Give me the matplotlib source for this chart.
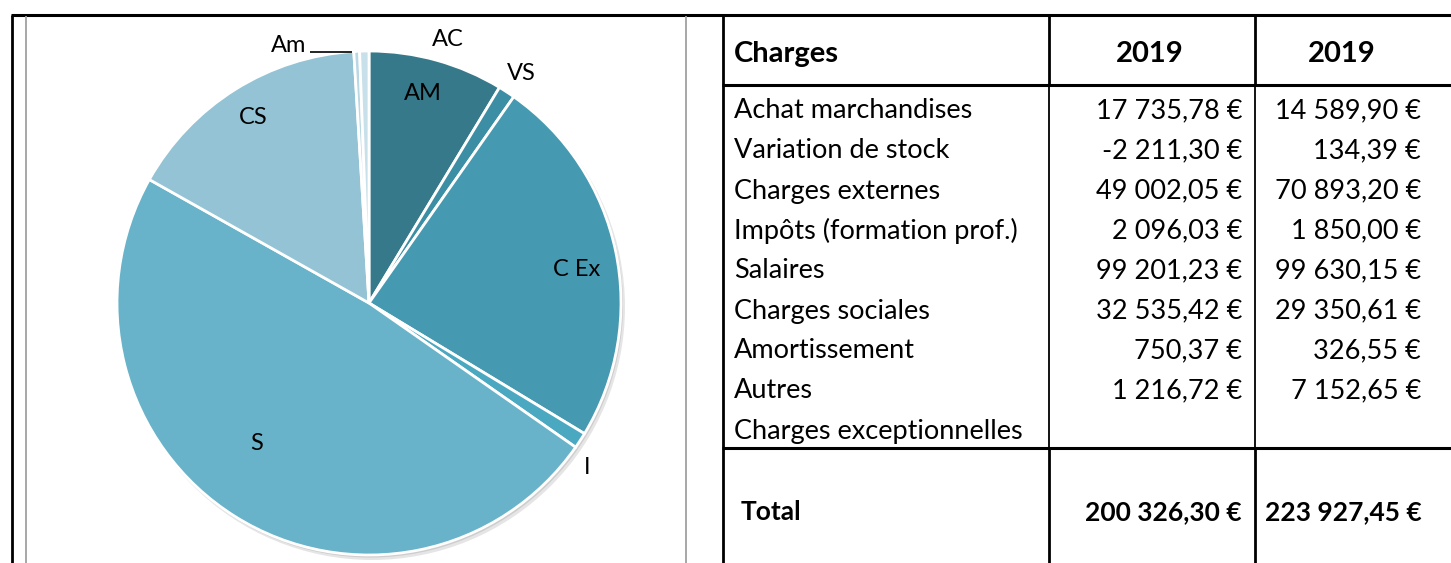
import matplotlib
matplotlib.use("Agg")
import matplotlib.pyplot as plt
from matplotlib.patches import Circle

plt.rcParams['font.family'] = ['Lato', 'DejaVu Sans']

# ---- data ----
row_labels = ["Achat marchandises", "Variation de stock", "Charges externes",
              "Impôts (formation prof.)", "Salaires", "Charges sociales",
              "Amortissement", "Autres", "Charges exceptionnelles"]
col_a_text = ["17 735,78 €", "-2 211,30 €", "49 002,05 €", "2 096,03 €",
              "99 201,23 €", "32 535,42 €", "750,37 €", "1 216,72 €", ""]
col_b_text = ["14 589,90 €", "134,39 €", "70 893,20 €", "1 850,00 €",
              "99 630,15 €", "29 350,61 €", "326,55 €", "7 152,65 €", ""]
header = ["Charges", "2019", "2019"]
total_label = "Total"
total_a = "200 326,30 €"
total_b = "223 927,45 €"

pie_labels = ["AM", "VS", "C Ex", "I", "S", "CS", "Am", "AC"]
pie_values = [17735.78, 2211.30, 49002.05, 2096.03, 99201.23, 32535.42, 750.37, 1216.72]
pie_colors = ["#36798a", "#3b8ea3", "#4599b0", "#4ba8c1", "#68b3c9",
              "#93c3d4", "#b9d8e3", "#c8e0e9"]

# ---- figure ----
W, H = 1451, 563
fig = plt.figure(figsize=(W / 100, H / 100), dpi=100)
ax = fig.add_axes([0, 0, 1, 1])

def Y(y):  # pixel-from-top -> data y
    return H - y

cx, cy, R = 369, Y(303), 252

# shadow
ax.add_patch(Circle((cx + 3, cy - 4), R + 1, facecolor="#000000", alpha=0.10, edgecolor="none", zorder=1))
ax.add_patch(Circle((cx + 1.5, cy - 2), R + 0.5, facecolor="#000000", alpha=0.10, edgecolor="none", zorder=1))

wedges, _ = ax.pie(pie_values, colors=pie_colors, startangle=90, counterclock=False,
                   center=(cx, cy), radius=R,
                   wedgeprops=dict(edgecolor="white", linewidth=2, zorder=2))
for w in wedges:
    w.set_zorder(2)

# label placement (offsets from pie centre, in pixels; x right, y up)
label_pos = {
    "AM": (54, 210, "center"),
    "VS": (152, 230, "center"),
    "C Ex": (208, 35, "center"),
    "I": (218, -163, "center"),
    "S": (-112, -139, "center"),
    "CS": (-116, 186, "center"),
    "Am": (-63, 258, "right"),
    "AC": (79, 264, "center"),
}
for lab in pie_labels:
    dx, dy, ha = label_pos[lab]
    ax.text(cx + dx, cy + dy - 1, lab, fontsize=17, ha=ha, va="center", color="#000000", zorder=5)
# leader line for Am
ax.plot([310, 352], [Y(52), Y(52)], color="black", lw=1.2, zorder=5, solid_capstyle="butt")

ax.set_xlim(0, W)
ax.set_ylim(0, H)
ax.set_axis_off()

# ---- frame lines ----
def hline(y, x0, x1, lw, c="black"):
    ax.plot([x0, x1], [Y(y), Y(y)], color=c, lw=lw, solid_capstyle="butt", zorder=6)

def vline(x, y0, y1, lw, c="black"):
    ax.plot([x, x], [Y(y0), Y(y1)], color=c, lw=lw, solid_capstyle="butt", zorder=6)

hline(15, 11, W, 2.2)
vline(12, 15, H, 2.0)
vline(26, 16, H, 1.3, "#a0a0a0")
vline(686, 16, H, 1.3, "#a0a0a0")
# table
vline(723, 15, H, 2.0)
vline(1049, 15, 86, 2.0)
vline(1255, 15, 86, 2.0)
vline(1049, 86, 448, 1.3)
vline(1255, 86, 448, 1.3)
vline(1049, 448, H, 2.0)
vline(1255, 448, H, 2.0)
hline(85, 722, W, 2.2)
hline(448, 722, W, 2.2)

# ---- table text ----
fs = 19.5
fs_head = 21
fs_tot = 19
off = 2
ax.text(734, Y(52 + off), header[0], fontsize=fs_head, fontweight="bold", ha="left", va="center", zorder=7)
ax.text(1150, Y(52 + off), header[1], fontsize=fs_head, fontweight="bold", ha="center", va="center", zorder=7)
ax.text(1342, Y(52 + off), header[2], fontsize=fs_head, fontweight="bold", ha="center", va="center", zorder=7)

for i, (lab, a, b) in enumerate(zip(row_labels, col_a_text, col_b_text)):
    y = Y(109 + 40 * i + off)
    ax.text(734, y, lab, fontsize=fs, ha="left", va="center", zorder=7)
    if a:
        ax.text(1242, y, a, fontsize=fs, ha="right", va="center", zorder=7)
    if b:
        ax.text(1421, y, b, fontsize=fs, ha="right", va="center", zorder=7)

ax.text(741, Y(510 + off), total_label, fontsize=fs_tot, fontweight="bold", ha="left", va="center", zorder=7)
ax.text(1242, Y(510 + off), total_a, fontsize=fs_tot, fontweight="bold", ha="right", va="center", zorder=7)
ax.text(1422, Y(510 + off), total_b, fontsize=fs_tot, fontweight="bold", ha="right", va="center", zorder=7)

fig.savefig("out.png", dpi=100, facecolor="white")
